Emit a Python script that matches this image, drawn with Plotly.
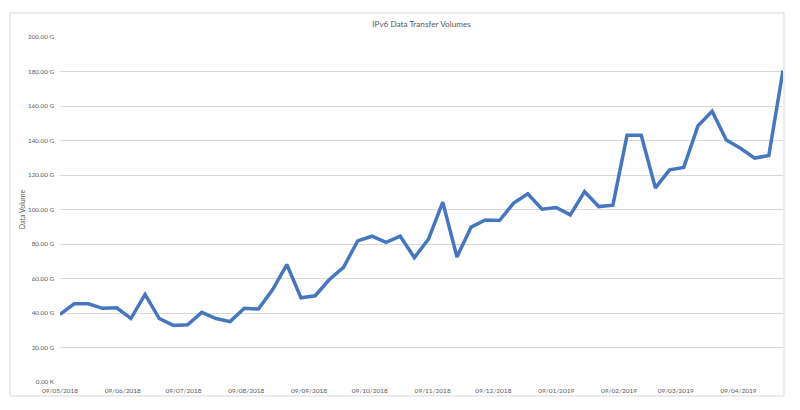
import datetime as dt
import plotly.graph_objects as go

start = dt.date(2018, 5, 9)
weeks = list(range(52))
dates = [start + dt.timedelta(days=7 * w) for w in weeks]

volumes_g = [39.2, 45.3, 45.3, 42.7, 43.0, 36.8, 50.8, 36.8, 32.8, 33.2,
             40.4, 36.8, 35.0, 42.8, 42.3, 53.6, 68.1, 48.8, 50.0, 59.4,
             66.5, 81.8, 84.5, 81.0, 84.5, 72.1, 82.9, 104.3, 72.5, 89.8,
             93.9, 93.6, 103.7, 109.1, 100.2, 101.2, 96.9, 110.4, 101.7, 102.5,
             143.0, 143.0, 112.5, 123.0, 124.4, 148.5, 157.0, 140.3, 135.5, 129.8,
             131.3, 180.6]

x_tick_dates = ["2018-05-09", "2018-06-09", "2018-07-09", "2018-08-09", "2018-09-09",
                "2018-10-09", "2018-11-09", "2018-12-09", "2019-01-09", "2019-02-09",
                "2019-03-09", "2019-04-09"]
x_tick_labels = ["09/05/2018", "09/06/2018", "09/07/2018", "09/08/2018", "09/09/2018",
                 "09/10/2018", "09/11/2018", "09/12/2018", "09/01/2019", "09/02/2019",
                 "09/03/2019", "09/04/2019"]
y_tick_vals = [0, 20, 40, 60, 80, 100, 120, 140, 160, 180, 200]
y_tick_labels = ["0.00 K", "20.00 G", "40.00 G", "60.00 G", "80.00 G", "100.00 G",
                 "120.00 G", "140.00 G", "160.00 G", "180.00 G", "200.00 G"]

FONT = "Lato, 'Open Sans', sans-serif"
GRAY = "#595959"

fig = go.Figure()
fig.add_trace(go.Scatter(
    x=dates, y=volumes_g, mode="lines",
    line=dict(color="#4676BE", width=3.5),
    hoverinfo="skip", showlegend=False,
))

L, R, T, B = 60, 17, 37, 28
W, H = 800, 410
pw, ph = W - L - R, H - T - B

fig.update_layout(
    width=W, height=H,
    margin=dict(l=L, r=R, t=T, b=B, autoexpand=False),
    paper_bgcolor="white", plot_bgcolor="white",
    title=dict(text="IPv6 Data Transfer Volumes", x=0.5, xanchor="center",
               y=1 - 24 / H, yanchor="middle", xref="paper",
               font=dict(family=FONT, size=8.2, color=GRAY)),
    xaxis=dict(
        range=[dates[0], dates[-1]],
        tickvals=x_tick_dates, ticktext=x_tick_labels,
        tickfont=dict(family=FONT, size=6.5, color=GRAY),
        showgrid=False, zeroline=False, showline=False, ticks="",
        ticklabelstandoff=3, automargin=False,
    ),
    yaxis=dict(
        range=[0, 200],
        tickvals=y_tick_vals, ticktext=y_tick_labels,
        tickfont=dict(family=FONT, size=6.3, color=GRAY),
        showgrid=True, gridcolor="#D9D9D9", gridwidth=1,
        zeroline=False, showline=False, ticks="",
        ticklabelstandoff=5, automargin=False,
        title=dict(text="Data Volume", font=dict(family=FONT, size=7, color=GRAY),
                   standoff=1),
    ),
    shapes=[dict(
        type="rect", xref="paper", yref="paper",
        x0=(10 - L) / pw, x1=(784 - L) / pw,
        y0=(H - B - 396) / ph, y1=(H - B - 13) / ph,
        line=dict(color="#D9D9D9", width=1), fillcolor="rgba(0,0,0,0)", layer="above",
    )],
)

fig.write_html("out.html", config={"displayModeBar": False},
               post_script="document.body.style.margin='0px';")
